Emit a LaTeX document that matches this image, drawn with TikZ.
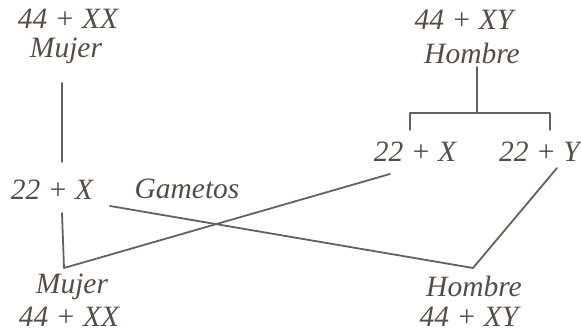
\documentclass[tikz,border=0pt]{standalone}
\usepackage{fontspec}
\setmainfont{Liberation Serif}
\definecolor{ink}{HTML}{574C44}
\definecolor{wireink}{HTML}{6A5F57}
\begin{document}
\begin{tikzpicture}[x=1pt,y=-1pt,
  lbl/.style={inner sep=0pt,text=ink,font=\fontsize{29.5}{32}\selectfont\itshape},
  wire/.style={draw=wireink,line width=1.8pt,line cap=round,line join=round}]
\useasboundingbox (0,0) rectangle (581,334);
% left column
\node[lbl] (lt1) at (68,19) {44 + XX};
\node[lbl] (lt2) at (66,51) {Mujer};
\node[lbl] (lg) at (52,190) {22 + X};
\node[lbl] (gam) at (187,189) {Gametos};
\node[lbl] (lb1) at (72,287) {Mujer};
\node[lbl] (lb2) at (69,317) {44 + XX};
% right column
\node[lbl] (rt1) at (464,20) {44 + XY};
\node[lbl] (rt2) at (472,53) {Hombre};
\node[lbl] (rgx) at (415,152) {22 + X};
\node[lbl,anchor=west] (rgy) at (499,152) {22 + Y};
\node[lbl] (rb1) at (474,286) {Hombre};
\node[lbl] (rb2) at (469,317) {44 + XY};
% coordinates
\coordinate (a1) at (62,83);
\coordinate (a2) at (62,162);
\coordinate (b1) at (62,213);
\coordinate (b2) at (64,268);
\coordinate (c1) at (390,174);
\coordinate (d1) at (110,206);
\coordinate (d2) at (473,268);
\coordinate (d3) at (557,168);
\coordinate (h0) at (477,67);
\coordinate (h1) at (477,113);
\coordinate (hl) at (410,113);
\coordinate (hr) at (550,113);
\coordinate (hl2) at (410,130);
\coordinate (hr2) at (550,130);
% connectors
\draw[wire] (a1) -- (a2);
\draw[wire] (b1) -- (b2) -- (c1);
\draw[wire] (d1) -- (d2) -- (d3);
\draw[wire] (h0) -- (h1);
\draw[wire] (hl2) -- (hl) -- (hr) -- (hr2);
\end{tikzpicture}
\end{document}
